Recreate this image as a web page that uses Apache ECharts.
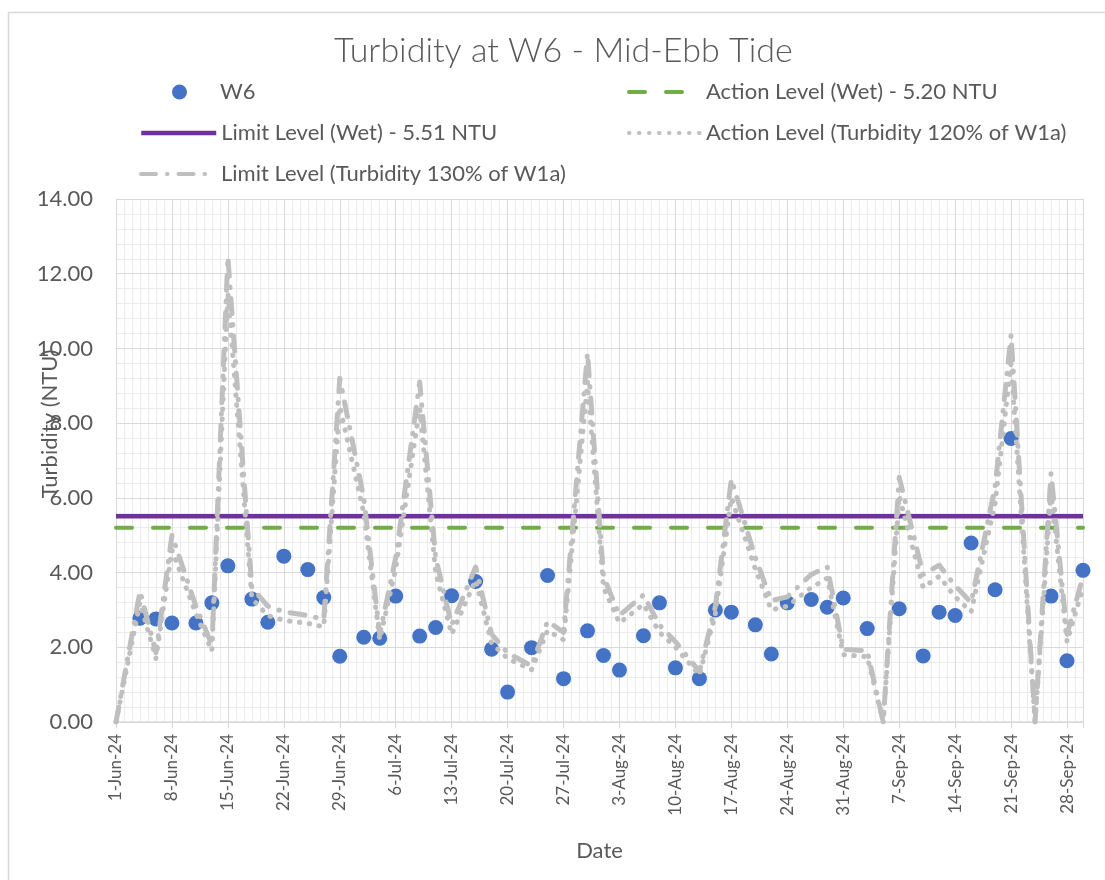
<!DOCTYPE html>
<html>
<head>
<meta charset="utf-8">
<title>Turbidity at W6 - Mid-Ebb Tide</title>
<script src="https://cdn.jsdelivr.net/npm/echarts@6/dist/echarts.min.js"></script>
<style>
  html, body { margin: 0; padding: 0; background: #ffffff; }
  #chart { width: 1105px; height: 880px; }
</style>
</head>
<body>
<div id="chart"></div>
<script>
// W6 monitoring results (NTU), mid-ebb tide
const w6Dates = [
  '2024-06-04','2024-06-06','2024-06-08','2024-06-11','2024-06-13','2024-06-15','2024-06-18','2024-06-20',
  '2024-06-22','2024-06-25','2024-06-27','2024-06-29','2024-07-02','2024-07-04','2024-07-06','2024-07-09',
  '2024-07-11','2024-07-13','2024-07-16','2024-07-18','2024-07-20','2024-07-23','2024-07-25','2024-07-27',
  '2024-07-30','2024-08-01','2024-08-03','2024-08-06','2024-08-08','2024-08-10','2024-08-13','2024-08-15',
  '2024-08-17','2024-08-20','2024-08-22','2024-08-24','2024-08-27','2024-08-29','2024-08-31','2024-09-03',
  '2024-09-07','2024-09-10','2024-09-12','2024-09-14','2024-09-16','2024-09-19','2024-09-21','2024-09-26',
  '2024-09-28','2024-09-30'
];
const w6Values = [
  2.78, 2.76, 2.65, 2.65, 3.19, 4.18, 3.29, 2.67,
  4.44, 4.08, 3.33, 1.76, 2.27, 2.24, 3.37, 2.30,
  2.53, 3.38, 3.76, 1.95, 0.80, 1.99, 3.92, 1.16,
  2.44, 1.78, 1.39, 2.31, 3.19, 1.45, 1.16, 3.00,
  2.94, 2.60, 1.82, 3.19, 3.28, 3.07, 3.32, 2.50,
  3.03, 1.77, 2.94, 2.85, 4.79, 3.54, 7.59, 3.37,
  1.64, 4.06
];

// W1a-based criteria (NTU)
const w1aDates = [
  '2024-06-01','2024-06-04','2024-06-06','2024-06-08','2024-06-11','2024-06-13','2024-06-15','2024-06-18',
  '2024-06-20','2024-06-22','2024-06-25','2024-06-27','2024-06-29','2024-07-02','2024-07-04','2024-07-06',
  '2024-07-09','2024-07-11','2024-07-13','2024-07-16','2024-07-18','2024-07-20','2024-07-23','2024-07-25',
  '2024-07-27','2024-07-30','2024-08-01','2024-08-03','2024-08-06','2024-08-08','2024-08-10','2024-08-13',
  '2024-08-15','2024-08-17','2024-08-20','2024-08-22','2024-08-24','2024-08-27','2024-08-29','2024-08-31',
  '2024-09-03','2024-09-05','2024-09-07','2024-09-10','2024-09-12','2024-09-14','2024-09-16','2024-09-19',
  '2024-09-21','2024-09-24','2024-09-26','2024-09-28','2024-09-30'
];
const action120Values = [
  0.00, 3.20, 1.70, 4.60, 2.90, 1.90, 11.50, 3.30,
  2.85, 2.72, 2.64, 2.55, 8.45, 5.60, 2.20, 4.10,
  8.40, 4.00, 2.35, 3.80, 2.10, 1.70, 1.40, 2.45,
  2.20, 9.10, 3.60, 2.65, 3.15, 2.40, 2.00, 1.25,
  2.90, 6.00, 4.10, 3.00, 3.10, 3.60, 3.85, 1.80,
  1.75, 0.00, 6.05, 3.60, 3.90, 3.35, 2.95, 5.85,
  9.60, 0.00, 6.15, 2.15, 3.60
];
const limit130Values = [
  0.00, 3.50, 1.85, 5.00, 3.10, 2.06, 12.45, 3.60,
  3.10, 2.95, 2.85, 2.75, 9.20, 6.00, 2.35, 4.40,
  9.10, 4.40, 2.60, 4.15, 2.35, 1.85, 1.50, 2.70,
  2.40, 9.88, 3.90, 2.85, 3.40, 2.60, 2.15, 1.35,
  3.10, 6.50, 4.40, 3.25, 3.35, 3.95, 4.15, 1.95,
  1.90, 0.00, 6.55, 3.95, 4.20, 3.65, 3.20, 6.30,
  10.36, 0.00, 6.66, 2.35, 3.90
];

// Fixed wet-season criteria (NTU)
const actionWet = 5.20;
const limitWet = 5.51;

// Axis range: 1-Jun-24 to 30-Sep-24, labelled weekly
const axisStart = '2024-06-01';
const axisEnd = '2024-09-30';
const yTicks = { min: 0, max: 14, step: 2 };

const MONTHS = ['Jan','Feb','Mar','Apr','May','Jun','Jul','Aug','Sep','Oct','Nov','Dec'];
const DAY = 86400000;
const base = Date.parse(axisStart + 'T00:00:00Z');
const toDay = s => Math.round((Date.parse(s + 'T00:00:00Z') - base) / DAY);
const lastDay = toDay(axisEnd);
const dayLabel = v => {
  const d = new Date(base + v * DAY);
  return d.getUTCDate() + '-' + MONTHS[d.getUTCMonth()] + '-' + String(d.getUTCFullYear()).slice(2);
};
const pairs = (dates, vals) => dates.map((s, i) => [toDay(s), vals[i]]);

const FONT = 'Lato';
const TXT = '#595959';
const GRID_MAJOR = '#d9d9d9';
const GRID_MINOR = '#ebebeb';
const GREY_LINE = '#BFBFBF';
const W6_BLUE = '#4472C4';

// one legend box per entry, laid out in two columns
const legendBase = {
  orient: 'horizontal',
  padding: 0,
  itemWidth: 72,
  itemHeight: 14,
  selectedMode: false,
  itemStyle: { opacity: 0 },
  textStyle: { color: TXT, fontSize: 22, fontFamily: FONT }
};
const legendFor = (name, left, top, extra) =>
  Object.assign({}, legendBase, { data: [name], left: left, top: top }, extra || {});

const chart = echarts.init(document.getElementById('chart'), null, { renderer: 'canvas' });

chart.setOption({
  animation: false,
  backgroundColor: '#ffffff',
  title: {
    text: 'Turbidity at W6 - Mid-Ebb Tide',
    left: 329,
    top: 29,
    textStyle: { color: TXT, fontSize: 34, fontWeight: 300, fontFamily: FONT }
  },
  legend: [
    legendFor('W6', 172, 81, {
      icon: 'circle',
      itemWidth: 15,
      itemHeight: 15,
      itemStyle: { opacity: 1, color: W6_BLUE },
      textStyle: { color: TXT, fontSize: 22, fontFamily: FONT, padding: [0, 0, 0, 28] }
    }),
    legendFor('Action Level (Wet) - 5.20 NTU', 627, 81, { lineStyle: { width: 4 } }),
    legendFor('Limit Level (Wet) - 5.51 NTU', 139, 122, { itemWidth: 75, lineStyle: { width: 4.5 } }),
    legendFor('Action Level (Turbidity 120% of W1a)', 627, 122, { lineStyle: { width: 4 } }),
    legendFor('Limit Level (Turbidity 130% of W1a)', 139, 163, { itemWidth: 75, lineStyle: { width: 4 } })
  ],
  grid: { left: 116, right: 22, top: 199, bottom: 158, containLabel: false, outerBoundsMode: 'none' },
  xAxis: [
    {
      type: 'value',
      min: 0,
      max: lastDay,
      interval: 7,
      axisLine: { show: true, lineStyle: { color: GRID_MAJOR, width: 1.5 } },
      axisTick: { show: true, length: 6, lineStyle: { color: GRID_MAJOR } },
      axisLabel: {
        rotate: 90,
        margin: 12,
        color: TXT,
        fontSize: 17,
        fontFamily: FONT,
        formatter: v => (v % 7 === 0 ? dayLabel(v) : '')
      },
      splitLine: { show: true, lineStyle: { color: GRID_MAJOR, width: 1 } },
      name: 'Date',
      nameLocation: 'middle',
      nameGap: 118,
      nameTextStyle: { color: TXT, fontSize: 22, fontFamily: FONT }
    },
    {
      // daily minor gridlines; weekly positions left to the major axis
      type: 'value',
      min: 0,
      max: lastDay,
      interval: 1,
      axisLine: { show: false },
      axisTick: { show: false },
      axisLabel: { show: false },
      splitLine: {
        show: true,
        lineStyle: {
          color: ['rgba(0,0,0,0)', GRID_MINOR, GRID_MINOR, GRID_MINOR, GRID_MINOR, GRID_MINOR, GRID_MINOR],
          width: 1
        }
      },
      z: -1
    }
  ],
  yAxis: {
    type: 'value',
    min: yTicks.min,
    max: yTicks.max,
    interval: yTicks.step,
    axisLine: { show: false },
    axisTick: { show: false },
    axisLabel: {
      margin: 23,
      color: TXT,
      fontSize: 22,
      fontFamily: FONT,
      formatter: v => v.toFixed(2)
    },
    splitLine: { show: true, lineStyle: { color: GRID_MAJOR, width: 1 } },
    minorTick: { show: false, splitNumber: 5 },
    minorSplitLine: { show: true, lineStyle: { color: GRID_MINOR, width: 1 } }
  },
  graphic: [
    {
      type: 'rect',
      shape: { x: 8.5, y: 12.5, width: 1110, height: 880 },
      style: { fill: 'none', stroke: GRID_MAJOR, lineWidth: 1.5 },
      silent: true,
      z: -10
    },
    {
      type: 'text',
      x: 50,
      y: 424,
      rotation: Math.PI / 2,
      style: {
        text: 'Turbidity (NTU)',
        fill: TXT,
        font: '22px ' + FONT,
        align: 'center',
        verticalAlign: 'middle'
      },
      z: 10
    }
  ],
  series: [
    {
      name: 'W6',
      type: 'scatter',
      data: pairs(w6Dates, w6Values),
      symbol: 'circle',
      symbolSize: 15,
      itemStyle: { color: W6_BLUE, opacity: 1 }
    },
    {
      name: 'Action Level (Wet) - 5.20 NTU',
      type: 'line',
      data: [[0, actionWet], [lastDay, actionWet]],
      symbol: 'none',
      lineStyle: { color: '#70AD47', width: 4, type: [16, 21], cap: 'round' },
      itemStyle: { color: '#70AD47' }
    },
    {
      name: 'Limit Level (Wet) - 5.51 NTU',
      type: 'line',
      data: [[0, limitWet], [lastDay, limitWet]],
      symbol: 'none',
      lineStyle: { color: '#7030A0', width: 4.5, type: 'solid' },
      itemStyle: { color: '#7030A0' }
    },
    {
      name: 'Action Level (Turbidity 120% of W1a)',
      type: 'line',
      data: pairs(w1aDates, action120Values),
      symbol: 'none',
      lineStyle: { color: GREY_LINE, width: 5, type: [0.5, 9.5], cap: 'round', join: 'round' },
      itemStyle: { color: GREY_LINE }
    },
    {
      name: 'Limit Level (Turbidity 130% of W1a)',
      type: 'line',
      data: pairs(w1aDates, limit130Values),
      symbol: 'none',
      lineStyle: { color: GREY_LINE, width: 5, type: [15, 11, 0.5, 11], cap: 'round', join: 'round' },
      itemStyle: { color: GREY_LINE }
    }
  ]
});
</script>
</body>
</html>
